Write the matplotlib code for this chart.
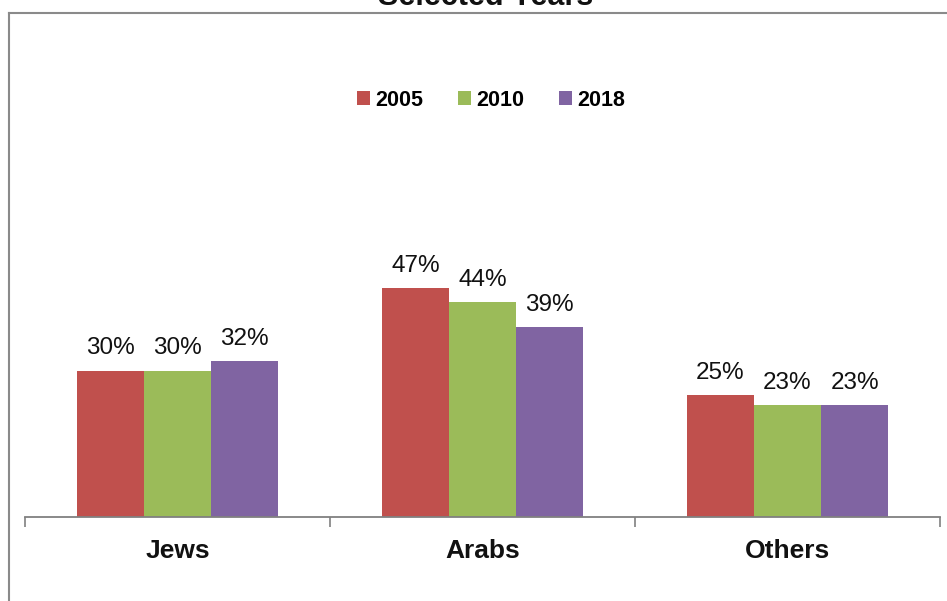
import matplotlib
matplotlib.use("Agg")
import matplotlib.pyplot as plt
import numpy as np
from matplotlib.lines import Line2D

plt.rcParams["font.family"] = ["Liberation Sans", "DejaVu Sans"]

CATEGORIES = ["Jews", "Arabs", "Others"]
YEARS = ["2005", "2010", "2018"]
VALUES_2005 = [30, 47, 25]
VALUES_2010 = [30, 44, 23]
VALUES_2018 = [32, 39, 23]
COLORS = ["#C0504D", "#9BBB59", "#8064A2"]

series = [VALUES_2005, VALUES_2010, VALUES_2018]

fig = plt.figure(figsize=(9.47, 6.01), dpi=100)
ax = fig.add_axes([25 / 947, 84 / 601, 915 / 947, 488 / 601])

x = np.arange(len(CATEGORIES))
bar_width = 0.22
offsets = (np.arange(len(YEARS)) - 1) * bar_width

for offset, year, values, color in zip(offsets, YEARS, series, COLORS):
    bars = ax.bar(x + offset, values, width=bar_width, color=color,
                  label=year, linewidth=0)
    ax.bar_label(bars, labels=[f"{v}%" for v in values], padding=8,
                 fontsize=17.5, color="#111111")

ax.set_xlim(-0.5, len(CATEGORIES) - 0.5)
ax.set_ylim(0, 100)
ax.set_yticks([])
ax.set_xticks(x)
ax.set_xticklabels(CATEGORIES, fontsize=19, fontweight="bold", color="#111111")
ax.tick_params(axis="x", which="major", length=0, pad=16)
ax.set_xticks(np.arange(-0.5, len(CATEGORIES)), minor=True)
ax.tick_params(axis="x", which="minor", length=7.5, width=1.2, color="#808080",
               direction="out")

for side in ["top", "right", "left"]:
    ax.spines[side].set_visible(False)
ax.spines["bottom"].set_color("#808080")
ax.spines["bottom"].set_linewidth(1.3)

ax.legend(loc="center", bbox_to_anchor=(491 / 947, 1 - 100 / 601),
          bbox_transform=fig.transFigure, ncol=3, frameon=False,
          prop={"size": 15.5, "weight": "bold"}, handlelength=0.6,
          handleheight=0.6, handletextpad=0.25, columnspacing=1.6)

# outer chart frame, cut at the top and right
frame_kw = dict(color="#8a8a8a", linewidth=1.5, transform=fig.transFigure)
fig.add_artist(Line2D([8.5 / 947, 1.0], [1 - 13 / 601, 1 - 13 / 601], **frame_kw))
fig.add_artist(Line2D([8.5 / 947, 8.5 / 947], [0.0, 1 - 13 / 601], **frame_kw))

fig.text(486 / 947, 1 - 5 / 601, "Selected Years", ha="center", va="baseline",
         fontsize=22, fontweight="bold", color="#111111")

fig.savefig("out.png", dpi=100)
